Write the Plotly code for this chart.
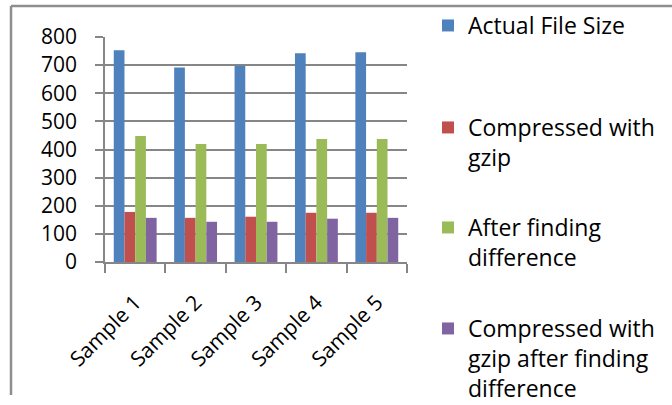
import plotly.graph_objects as go

# Data
samples = ["Sample 1", "Sample 2", "Sample 3", "Sample 4", "Sample 5"]
actual_size = [753, 692, 698, 742, 746]
gzip_size = [178, 157, 161, 175, 175]
diff_size = [448, 420, 420, 437, 437]
gzip_diff_size = [157, 143, 143, 154, 157]

series_names = [
    "Actual File Size",
    "Compressed with<br>gzip",
    "After finding<br>difference",
    "Compressed with<br>gzip after finding<br>difference",
]
series_values = [actual_size, gzip_size, diff_size, gzip_diff_size]
series_colors = ["#4F81BD", "#C0504D", "#9BBB59", "#8064A2"]

# Canvas geometry (pixels)
W, H = 672, 405
ML, MR, MT, MB = 105, 265, 37, 143
PW, PH = W - ML - MR, H - MT - MB

def px_x(p):
    return (p - ML) / PW

def px_y(p):
    return (H - MB - p) / PH

FONT = "Open Sans"
GRID = "#868686"

legend_ids = ["legend", "legend2", "legend3", "legend4"]
legend_tops = [4, 106, 206, 307]

fig = go.Figure()
for name, vals, color, lid in zip(series_names, series_values, series_colors, legend_ids):
    fig.add_trace(go.Bar(
        x=samples, y=vals, name=name, marker_color=color,
        marker_line_width=0, legend=lid, showlegend=True,
    ))

legend_common = dict(
    xref="container", yref="container", x=428 / W, xanchor="left", yanchor="top",
    bgcolor="rgba(0,0,0,0)", font=dict(family=FONT, size=23, color="#000000"),
    valign="top", itemwidth=30, visible=True,
)
layout_legends = {}
for lid, top in zip(legend_ids, legend_tops):
    layout_legends[lid] = dict(legend_common, y=1 - top / H)

# Chart-area frame (left and top edges)
shapes = [
    dict(type="line", xref="paper", yref="paper",
         x0=px_x(11), x1=px_x(11), y0=px_y(6), y1=px_y(395),
         line=dict(color="#8E8E8E", width=2.5)),
    dict(type="line", xref="paper", yref="paper",
         x0=px_x(11), x1=px_x(672), y0=px_y(6), y1=px_y(6),
         line=dict(color="#8E8E8E", width=2.5)),
]

fig.update_layout(
    width=W, height=H,
    margin=dict(l=ML, r=MR, t=MT, b=MB),
    paper_bgcolor="white", plot_bgcolor="white",
    barmode="group", bargap=0.29, bargroupgap=0,
    showlegend=True,
    font=dict(family=FONT, color="#000000"),
    shapes=shapes,
    **layout_legends,
)

fig.update_xaxes(
    type="category", tickson="boundaries",
    ticks="outside", ticklen=9, tickwidth=1.5, tickcolor=GRID,
    showline=True, linecolor=GRID, linewidth=2,
    tickangle=-45, ticklabelstandoff=18,
    tickfont=dict(family=FONT, size=21, color="#000000"),
    showgrid=False,
)
fig.update_yaxes(
    range=[0, 800], dtick=100,
    showgrid=True, gridcolor=GRID, gridwidth=2,
    ticks="outside", ticklen=8, tickwidth=2, tickcolor=GRID,
    showline=True, linecolor=GRID, linewidth=1.5,
    zeroline=False, ticklabelstandoff=14,
    tickfont=dict(family=FONT, size=21, color="#000000"),
)

fig.write_html("out.html")
